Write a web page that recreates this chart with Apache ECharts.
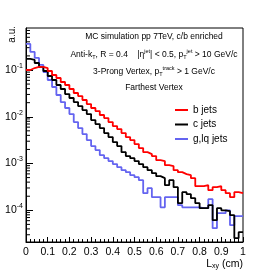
<!DOCTYPE html>
<html><head><meta charset="utf-8">
<script src="https://cdn.jsdelivr.net/npm/echarts@6/dist/echarts.min.js"></script>
<style>html,body{margin:0;padding:0;background:#fff}#c{width:270px;height:273px}</style>
</head><body><div id="c"></div>
<script>
// bin edges (cm)
var binEdges = [0,0.02,0.04,0.06,0.08,0.10,0.12,0.14,0.16,0.18,0.20,0.22,0.24,0.26,0.28,0.30,0.32,0.34,0.36,0.38,0.40,0.42,0.44,0.46,0.48,0.50,0.52,0.54,0.56,0.58,0.60,0.62,0.64,0.66,0.68,0.70,0.72,0.74,0.76,0.78,0.80,0.82,0.84,0.86,0.88,0.90,0.92,0.94,0.96,0.98,1.00];
var seriesNames = ['b jets', 'c jets', 'g,lq jets'];
var bJets = [0.100,0.110,0.116,0.116,0.110,0.0952,0.0781,0.0674,0.0553,0.0477,0.0392,0.0322,0.0277,0.0228,0.0187,0.0154,0.0132,0.0109,0.00938,0.00770,0.00632,0.00545,0.00448,0.00367,0.00317,0.00260,0.00214,0.00175,0.00159,0.00144,0.00118,0.00113,0.000924,0.000880,0.000722,0.000654,0.000593,0.000564,0.000487,0.000328,0.000328,0.000345,0.000269,0.000312,0.000328,0.000269,0.000232,0.000191,0.000244,0.000232];
var cJets = [0.172,0.164,0.141,0.116,0.0952,0.0744,0.0611,0.0477,0.0392,0.0306,0.0252,0.0206,0.0169,0.0139,0.0114,0.00850,0.00698,0.00573,0.00448,0.00367,0.00287,0.00236,0.00175,0.00144,0.00130,0.00113,0.000971,0.000837,0.000722,0.000623,0.000537,0.000487,0.000345,0.000441,0.000312,0.000142,0.000244,0.000221,0.000182,0.000142,0.000111,0.000111,0.000129,0.0000614,0.000111,0.000100,0.0000957,0.0000786,0.0000253,0.0000340];
var glqJets = [0.360,0.243,0.181,0.128,0.0906,0.0611,0.0433,0.0292,0.0206,0.0154,0.0114,0.00770,0.00573,0.00426,0.00317,0.00236,0.00194,0.00151,0.00130,0.00113,0.000971,0.000837,0.000722,0.000654,0.000564,0.000511,0.000441,0.000232,0.000297,0.000191,0.000191,0.000116,0.000191,0.000191,0.000191,0.000129,0.000116,0.000116,0.000116,0.000116,0.000111,0.000111,0.000173,0.0000414,0.0000867,0.0000867,0.000100,0.0000480,0.0000748,0.0000748];
var yMinorTicks = [3e-5,4e-5,5e-5,6e-5,7e-5,8e-5,9e-5,2e-4,3e-4,4e-4,5e-4,6e-4,7e-4,8e-4,9e-4,2e-3,3e-3,4e-3,5e-3,6e-3,7e-3,8e-3,9e-3,2e-2,3e-2,4e-2,5e-2,6e-2,7e-2,8e-2,9e-2,0.2,0.3,0.4,0.5,0.6,0.7];
var colors = ['#ff0000', '#000000', '#6464f0'];

function histData(vals) {
  var d = [];
  for (var i = 0; i < vals.length; i++) d.push([binEdges[i], vals[i]]);
  d.push([binEdges[vals.length], vals[vals.length - 1]]);
  return d;
}
var FONT = 'Liberation Sans';
var chart = echarts.init(document.getElementById('c'), null, {renderer: 'canvas'});
var richAnn = {
  n: {fontSize: 8.5, fontFamily: FONT, color: '#000'},
  sup: {fontSize: 5.5, fontFamily: FONT, color: '#000', padding: [0, 0, 7, 0]},
  sub: {fontSize: 5.5, fontFamily: FONT, color: '#000', padding: [5, 0, 0, 0]}
};
function ann(text, y) {
  return {type: 'text', x: 154, y: y, style: {text: text, rich: richAnn, align: 'center', verticalAlign: 'middle', fontFamily: FONT, fontSize: 8.5, fill: '#000'}};
}
var mkSeries = [bJets, cJets, glqJets].map(function (vals, k) {
  return {
    name: seriesNames[k], type: 'line', step: 'end', data: histData(vals),
    showSymbol: false, symbol: 'none', lineStyle: {color: colors[k], width: 1.8}, itemStyle: {color: colors[k]},
    z: 3 - k + 2, animation: false
  };
});
mkSeries.push({
  type: 'custom', silent: true, animation: false,
  data: yMinorTicks.map(function (v) { return [0, v]; }),
  renderItem: function (params, api) {
    var p = api.coord([0, api.value(1)]);
    return {type: 'line', shape: {x1: p[0], y1: p[1], x2: p[0] + 4, y2: p[1]}, style: {stroke: '#000', lineWidth: 1}};
  }
});
chart.setOption({
  animation: false,
  grid: {left: 26, right: 27, top: 28, bottom: 31, show: true, borderColor: '#000', borderWidth: 1, containLabel: false},
  xAxis: {
    type: 'value', min: 0, max: 1, interval: 0.1,
    axisLine: {show: true, lineStyle: {color: '#000', width: 1}},
    axisTick: {show: true, inside: true, length: 5, lineStyle: {color: '#000'}},
    minorTick: {show: true, splitNumber: 5, length: 3, lineStyle: {color: '#000'}},
    splitLine: {show: false},
    axisLabel: {fontFamily: FONT, fontSize: 10.5, color: '#000', margin: 5}
  },
  yAxis: {
    type: 'log', min: 2.1e-5, max: 0.79, logBase: 10,
    axisLine: {show: true, lineStyle: {color: '#000', width: 1}},
    axisTick: {show: true, inside: true, length: 7, lineStyle: {color: '#000'}},
    splitLine: {show: false},
    axisLabel: {
      showMinLabel: false, showMaxLabel: false, margin: 3,
      formatter: function (v) {
        var e = Math.round(Math.log10(v));
        if (Math.abs(Math.log10(v) - e) > 1e-6) return '';
        return '{b|10}{s|' + e + '}';
      },
      rich: {
        b: {fontFamily: FONT, fontSize: 10.5, color: '#000'},
        s: {fontFamily: FONT, fontSize: 7, color: '#000', padding: [0, 0, 8, 0]}
      }
    }
  },
  legend: {
    data: seriesNames, orient: 'vertical', left: 170, top: 100, itemWidth: 13, itemHeight: 2, itemGap: 4.5,
    icon: 'rect', textStyle: {fontFamily: FONT, fontSize: 10, color: '#000', padding: [0, 0, 0, 0]},
    selectedMode: false
  },
  graphic: [
    ann('{n|MC simulation pp 7TeV, c/b enriched}', 37),
    ann('{n|Anti-k}{sub|T}{n|, R = 0.4    |η}{sup|jet}{n|| < 0.5, p}{sub|T}{sup|jet}{n| > 10 GeV/c}', 55),
    ann('{n|3-Prong Vertex, p}{sub|T}{sup|track}{n| > 1 GeV/c}', 72),
    ann('{n|Farthest Vertex}', 88),
    {type: 'text', x: 12, y: 26, rotation: Math.PI / 2, style: {text: 'a.u.', fontFamily: FONT, fontSize: 10, fill: '#000', align: 'right', verticalAlign: 'middle'}},
    {type: 'text', x: 243, y: 264, style: {text: '{l|L}{s|xy}{l| (cm)}', align: 'right', verticalAlign: 'middle',
      rich: {l: {fontFamily: FONT, fontSize: 10.5, color: '#000'}, s: {fontFamily: FONT, fontSize: 7, color: '#000', padding: [5, 0, 0, 0]}}}}
  ],
  series: mkSeries
});
</script></body></html>
